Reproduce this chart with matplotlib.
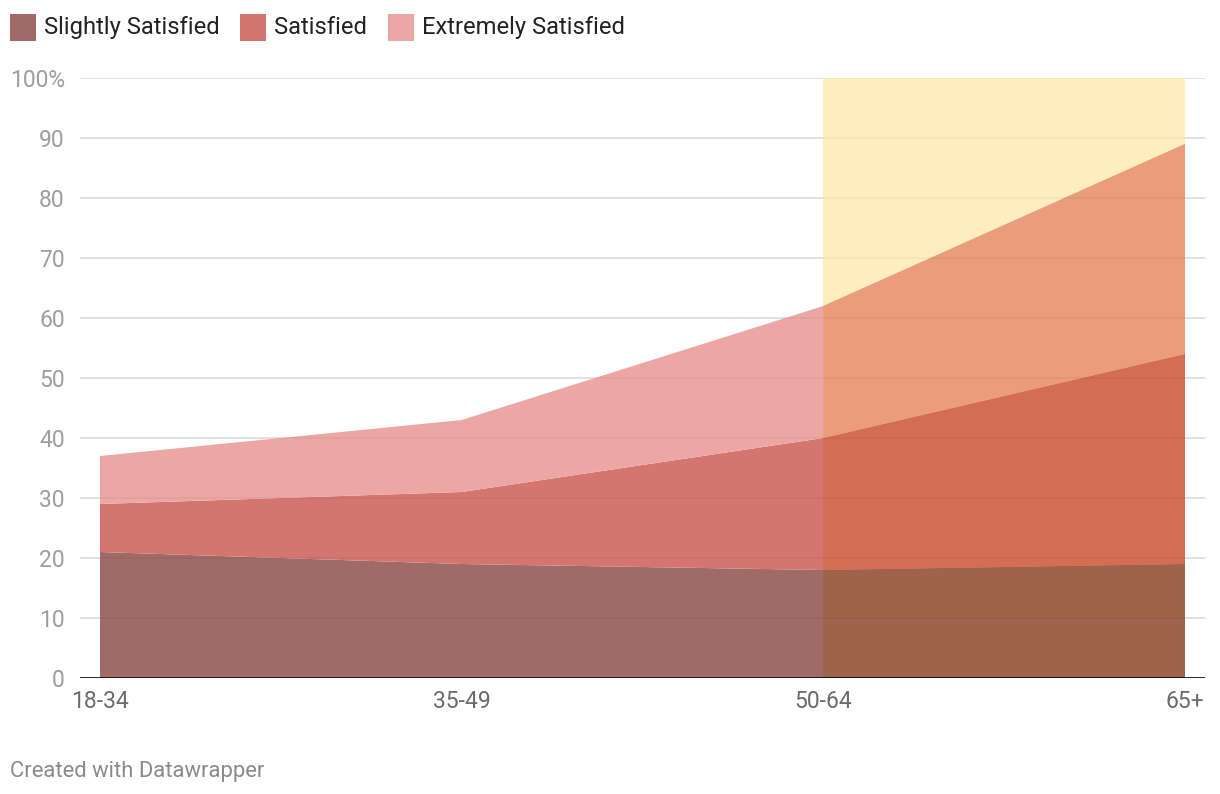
import numpy as np
import matplotlib
matplotlib.use("Agg")
import matplotlib.pyplot as plt
from matplotlib.colors import to_rgb
from matplotlib.patches import Rectangle

plt.rcParams["font.family"] = ["Roboto", "DejaVu Sans"]

# data (percent of respondents, stacked)
ages = ["18-34", "35-49", "50-64", "65+"]
series_names = ["Slightly Satisfied", "Satisfied", "Extremely Satisfied"]
slightly = [21, 19, 18, 19]
satisfied = [8, 12, 22, 35]
extremely = [8, 12, 22, 35]
highlight_from, highlight_to = "50-64", "65+"

colors = ["#a06a66", "#d4756f", "#eca7a4"]
highlight_color = "#feeebf"


def multiply(c1, c2):
    a = np.array(to_rgb(c1))
    b = np.array(to_rgb(c2))
    return tuple(a * b)


fig = plt.figure(figsize=(12.2, 7.94), dpi=100)
ax = fig.add_axes([80 / 1220, 116 / 794, 1125 / 1220, 600 / 794])

x = np.arange(len(ages))
values = [np.array(slightly), np.array(satisfied), np.array(extremely)]
bottoms = np.cumsum([np.zeros(len(ages))] + values[:-1], axis=0)

h0, h1 = ages.index(highlight_from), ages.index(highlight_to)
ax.add_patch(Rectangle((h0, 0), h1 - h0, 100, facecolor=highlight_color,
                       edgecolor="none", zorder=1))

seg = slice(h0, h1 + 1)
for vals, bot, col in zip(values, bottoms, colors):
    ax.fill_between(x, bot, bot + vals, facecolor=col, linewidth=0, zorder=2)
    ax.fill_between(x[seg], bot[seg], (bot + vals)[seg],
                    facecolor=multiply(col, highlight_color), linewidth=0, zorder=2.1)

# grid: light under everything, faint overlay on the areas
ticks = np.arange(0, 101, 10)
for t in ticks[1:]:
    ax.axhline(t, color="#e6e6e6", linewidth=1.2, zorder=0.5)
    ax.axhline(t, color="black", alpha=0.045, linewidth=1.2, zorder=3)
ax.axhline(0, color="#111111", linewidth=2, zorder=4)

ax.set_xlim(-20 / 361.67, 3 + 20 / 361.67)
ax.set_ylim(0, 100)
ax.set_yticks(ticks)
ax.set_yticklabels([str(t) if t < 100 else "100%" for t in ticks])
ax.set_xticks(x)
ax.set_xticklabels(ages)
ax.tick_params(axis="y", length=0, pad=11, labelsize=16.5, labelcolor="#9e9e9e")
ax.tick_params(axis="x", length=0, pad=9, labelsize=16.5, labelcolor="#6b6b6b")
for s in ax.spines.values():
    s.set_visible(False)

# legend
leg_x = [10, 240, 388]
for lx, name, col in zip(leg_x, series_names, colors):
    fig.patches.append(Rectangle((lx / 1220, 1 - 41 / 794), 26 / 1220, 27 / 794,
                                 transform=fig.transFigure, facecolor=col,
                                 edgecolor="none"))
    fig.text((lx + 34) / 1220, 1 - 27.5 / 794, name, fontsize=17.1,
             color="#222222", va="center", ha="left")

fig.text(10 / 1220, 1 - 771 / 794, "Created with Datawrapper", fontsize=15.8,
         color="#8a8a8a", va="center", ha="left")

fig.savefig("out.png", dpi=100, facecolor="white")
